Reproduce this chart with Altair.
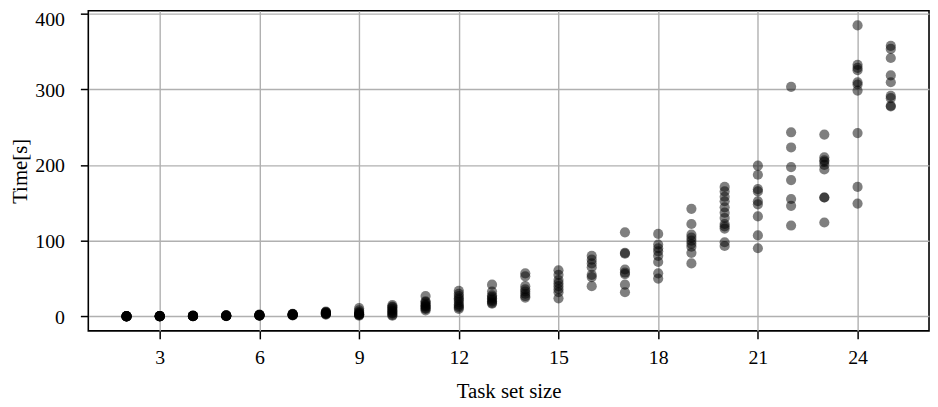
import altair as alt
import pandas as pd

t2 = [0.1, 0.1, 0.2, 0.2, 0.2, 0.3, 0.3, 0.4, 0.4, 0.5]
t3 = [0.2, 0.3, 0.3, 0.4, 0.4, 0.5, 0.5, 0.6, 0.6, 0.7]
t4 = [0.4, 0.5, 0.6, 0.6, 0.7, 0.8, 0.8, 0.9, 1.0, 1.1]
t5 = [0.6, 0.7, 0.8, 0.9, 1.0, 1.1, 1.2, 1.3, 1.4, 1.5]
t6 = [1.0, 1.2, 1.3, 1.5, 1.6, 1.8, 1.9, 2.0, 2.2, 2.4]
t7 = [1.5, 1.8, 2.0, 2.2, 2.4, 2.6, 2.8, 3.0, 3.2, 3.5]
t8 = [2.5, 3.0, 3.5, 4.0, 4.3, 4.6, 5.0, 5.5, 6.0, 6.5]
t9 = [1, 2, 2, 3, 3, 4, 5, 6, 8, 11]
t10 = [1, 2, 4, 5, 7, 8, 10, 12, 13, 15]
t11 = [8, 10, 11, 13, 14, 15, 17, 19, 20, 27]
t12 = [10, 12, 14, 16, 19, 22, 24, 27, 30, 34]
t13 = [17, 18, 20, 22, 24, 26, 28, 33, 42]
t14 = [25, 27, 30, 33, 36, 40, 53, 57]
t15 = [24, 32, 36, 40, 44, 48, 55, 61]
t16 = [40, 52, 55, 65, 70, 75, 80]
t17 = [32, 42, 56, 58, 62, 83, 84, 111]
t18 = [50, 57, 72, 80, 86, 90, 95, 109]
t19 = [70, 84, 92, 96, 100, 104, 108, 122, 142]
t20 = [93, 98, 116, 119, 122, 130, 137, 144, 152, 158, 165, 171]
t21 = [90, 107, 132, 148, 152, 165, 168, 187, 199]
t22 = [120, 146, 155, 180, 197, 223, 243, 303]
t23 = [124, 157, 157, 194, 200, 204, 206, 210, 240]
t24 = [149, 171, 242, 298, 306, 309, 325, 328, 332, 384]
t25 = [277, 278, 288, 291, 309, 318, 341, 353, 357]

sizes = list(range(2, 26))
times = [t2, t3, t4, t5, t6, t7, t8, t9, t10, t11, t12, t13, t14, t15,
         t16, t17, t18, t19, t20, t21, t22, t23, t24, t25]

x_ticks = [3, 6, 9, 12, 15, 18, 21, 24]
y_ticks = [0, 100, 200, 300, 400]

rows = []
for n, vals in zip(sizes, times):
    for v in vals:
        rows.append({"size": n, "time": v})
df = pd.DataFrame(rows)

FONT = "Liberation Serif"

chart = alt.Chart(df).mark_circle(
    color="black", opacity=0.5, size=105
).encode(
    x=alt.X("size:Q", title="Task set size",
            scale=alt.Scale(domain=[0.85, 26.15], nice=False, zero=False),
            axis=alt.Axis(values=x_ticks, format="d")),
    y=alt.Y("time:Q", title="Time[s]",
            scale=alt.Scale(domain=[-19, 403.4], nice=False, zero=False),
            axis=alt.Axis(values=y_ticks, format="d",
                          labelOffset={"condition": {"test": "datum.value == 400", "value": 6},
                                       "value": 1})),
).properties(
    width=848, height=323,
    autosize=alt.AutoSizeParams(type="none"),
    padding={"left": 81, "top": 1, "right": 1, "bottom": 72},
).configure_view(
    stroke="black", strokeWidth=1.6
).configure_axis(
    grid=True, gridColor="#b0b0b0", gridWidth=1.4,
    domain=False,
    ticks=True, tickColor="black", tickWidth=1.5, tickSize=8,
    labelFont=FONT, labelFontSize=20, labelColor="black",
    titleFont=FONT, titleFontSize=21, titleFontWeight="normal", titleColor="black",
).configure_axisX(
    labelPadding=9, titlePadding=13
).configure_axisY(
    labelPadding=16, titlePadding=4
)

chart.save("out.html", embed_options={"renderer": "svg", "actions": False})
